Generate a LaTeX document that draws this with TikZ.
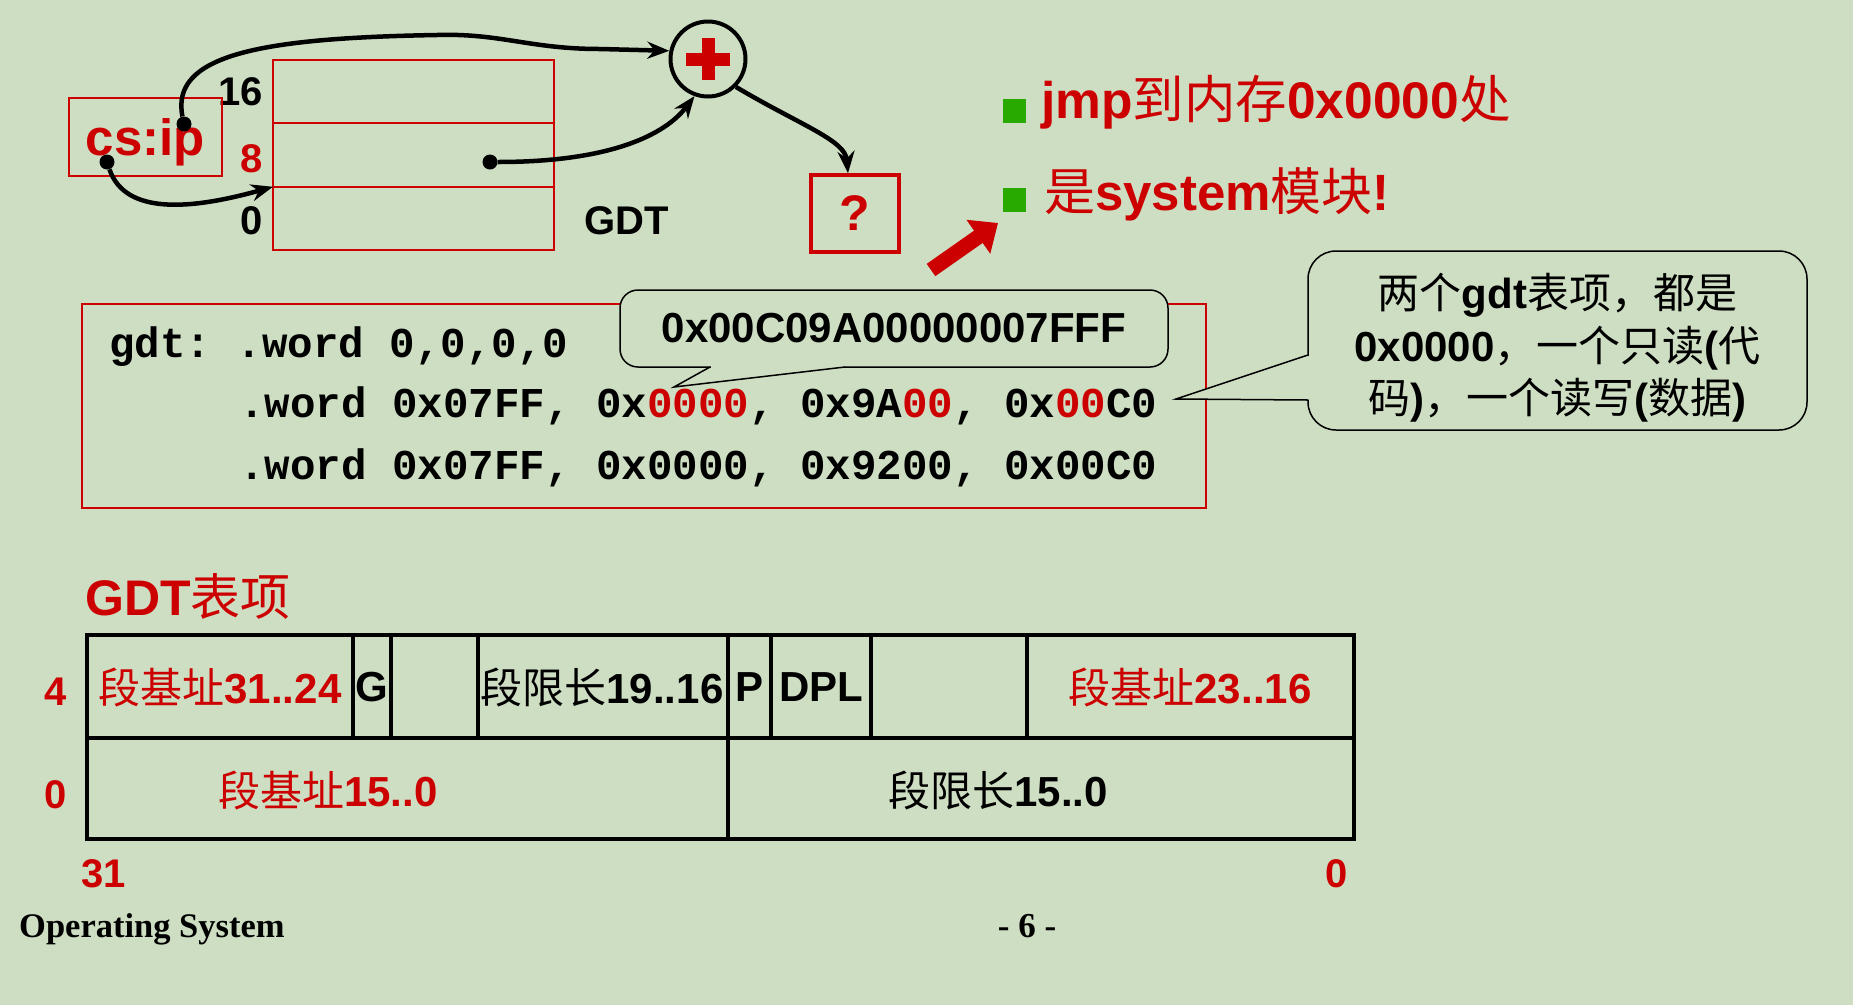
\documentclass[tikz,border=0pt]{standalone}
\usepackage{fontspec}
\setmainfont{Liberation Sans}
\setmonofont{Liberation Mono}
\newfontfamily\cjk{Noto Sans CJK SC}
\newfontfamily\footfont{Liberation Serif}
\usetikzlibrary{positioning,arrows.meta}
\definecolor{slidebg}{RGB}{206,222,195}
\definecolor{gdtred}{RGB}{204,0,0}
\definecolor{bulletgreen}{RGB}{40,170,0}
\newcommand{\zh}[1]{{\cjk\mdseries #1}}
\tikzset{%
  gdtrow/.style    = {rectangle, draw=gdtred, line width=1.6pt,%
                      minimum width=281pt, minimum height=63.5pt, outer sep=0pt},%
  numlab/.style    = {font=\fontsize{40pt}{48pt}\selectfont\bfseries},%
  blackdot/.style  = {circle, fill=black, minimum size=15pt},%
  jumparrow/.style = {line width=4.5pt, -{Stealth[length=22pt,width=17pt]}},%
  bubble/.style    = {rectangle, rounded corners=18pt, draw=black,%
                      line width=1.5pt, fill=slidebg},%
  asmline/.style   = {anchor=base west,%
                      font=\fontsize{42.5pt}{50pt}\selectfont\ttfamily\bfseries\frenchspacing},%
  tabtext/.style   = {font=\fontsize{42pt}{50pt}\selectfont\bfseries},%
  greenbox/.style  = {rectangle, fill=bulletgreen, minimum width=23pt, minimum height=24pt},%
  tabline/.style   = {line width=4pt, line cap=rect}%
}
\begin{document}
\begin{tikzpicture}[x=1pt,y=-1pt,
every node/.style = {inner sep=0pt}]
	\fill[slidebg] (0,0) rectangle (1853,1005);
	% GDT in memory
	\node[gdtrow] (row16) at (413.5,91.5) {};
	\node[gdtrow, below=0pt of row16] (row8) {};
	\node[gdtrow, below=0pt of row8] (row0) {};
	\node[numlab, left=10pt of row16] (lab16) {16};
	\node[numlab, left=10pt of row8, text=gdtred, yshift=-4pt] (lab8) {8};
	\node[numlab, left=10pt of row0, yshift=-2pt] (lab0) {0};
	\node[numlab, right=30pt of row0, yshift=-2pt] (gdtlab) {GDT};
	\node[rectangle, draw=gdtred, line width=1.6pt, minimum width=153pt, minimum height=78pt,
		text height=46pt, text depth=10pt,
		text=gdtred, font=\fontsize{51pt}{60pt}\selectfont\bfseries] (csip) at (145.5,137) {cs:ip};
	\node[blackdot] (csdot) at (184,124) {};
	\node[blackdot] (ipdot) at (107,162) {};
	\node[blackdot] (seldot) at (490,162) {};
	\node[circle, draw, line width=4pt, minimum size=75pt] (adder) at (708,59) {};
	\draw[gdtred, line width=13pt] ([xshift=-22pt]adder.center) -- ([xshift=22pt]adder.center)
		([yshift=21pt]adder.center) -- ([yshift=-21pt]adder.center);
	\node[rectangle, draw=gdtred, line width=3.5pt, minimum width=88pt, minimum height=77pt,
		text=gdtred, font=\fontsize{50pt}{60pt}\selectfont\bfseries] (dest) at (855,213.5) {?};
	\draw[jumparrow] (csdot) .. controls (170,55) and (260,38) .. (437,35)
		.. controls (500,33) and (530,49) .. (600,49) -- (adder.168);
	\draw[jumparrow] (ipdot) .. controls (125,215) and (190,210) .. (row8.south west);
	\draw[jumparrow] (seldot) .. controls (610,162) and (665,135) .. (adder.250);
	\draw[jumparrow] (adder.-45) .. controls (800,125) and (845,140) .. ([xshift=-7pt]dest.north);
	\draw[gdtred, line width=15pt, -{Triangle[length=24pt,width=40pt]}] (931,270) -- (998,223);
	% bullets
	\node[greenbox] (bul1) at (1014.5,110.5) {};
	\node[greenbox] (bul2) at (1014.5,200) {};
	\node[anchor=base west, text=gdtred, font=\fontsize{51.5pt}{60pt}\selectfont\bfseries]
		(jmptxt) at (1041,118) {jmp\zh{到内存}0x0000\zh{处}};
	\node[anchor=base west, text=gdtred, font=\fontsize{51pt}{60pt}\selectfont\bfseries]
		(systxt) at (1044,210) {\zh{是}system\zh{模块}!};
	% gdt source
	\draw[gdtred, line width=1.6pt] (82,304) rectangle (1206,508);
	\node[asmline] (asm1) at (109,357) {gdt: .word 0,0,0,0};
	\node[asmline] (asm2) at (239,417) {.word 0x07FF, 0x\textcolor{gdtred}{0000}, 0x9A\textcolor{gdtred}{00}, 0x\textcolor{gdtred}{00}C0};
	\node[asmline] (asm3) at (239,479) {.word 0x07FF, 0x0000, 0x9200, 0x00C0};
	\node[bubble, minimum width=548pt, minimum height=77pt,
		font=\fontsize{42pt}{48pt}\selectfont\bfseries] (hexcall) at (894,328.5) {0x00C09A00000007FFF};
	\coordinate (hextip) at (674,387);
	\fill[slidebg] (711,360) -- (711,368) -- (hextip) -- (844,368) -- (844,360) -- cycle;
	\draw[line width=1.5pt] (710,367) -- (hextip) -- (845,367);
	\node[bubble, rounded corners=28pt, minimum width=499pt, minimum height=179pt, align=center,
		font=\fontsize{42pt}{52.5pt}\selectfont\bfseries] (note) at (1557.5,340.5)
		{\rule{0pt}{50pt}\zh{两个}gdt\zh{表项，都是}\\0x0000\zh{，一个只读}(\zh{代}\\\zh{码})\zh{，一个读写}(\zh{数据})};
	\coordinate (notetip) at (1176,399);
	\fill[slidebg] (1304,356) -- (notetip) -- (1304,399.5) -- (1312,399.5) -- (1312,356) -- cycle;
	\draw[line width=1.5pt] (1308,355) -- (notetip) -- (1308,400);
	% descriptor layout
	\node[anchor=base west, text=gdtred, font=\fontsize{50pt}{56pt}\selectfont\bfseries]
		(gdtitem) at (85,615) {GDT\zh{表项}};
	\draw[tabline] (87,635) rectangle (1354,839);
	\draw[tabline] (87,738) -- (1354,738);
	\foreach \x in {353,391,478,728,771,871,1027}
		\draw[tabline] (\x,635) -- (\x,738);
	\draw[tabline] (728,738) -- (728,839);
	\node[tabtext, text=gdtred] (baseA) at (220,687) {\zh{段基址}31..24};
	\node[tabtext] (gbit) at (372,687) {G};
	\node[tabtext] (limA) at (602,687) {\zh{段限长}19..16};
	\node[tabtext] (pbit) at (749,687) {P};
	\node[tabtext] (dpl) at (821,687) {DPL};
	\node[tabtext, text=gdtred] (baseB) at (1190,687) {\zh{段基址}23..16};
	\node[tabtext, text=gdtred] (baseC) at (328,790) {\zh{段基址}15..0};
	\node[tabtext] (limB) at (998,790) {\zh{段限长}15..0};
	\node[numlab, text=gdtred] (off4) at (56,692) {4};
	\node[numlab, text=gdtred] (off0) at (56,795) {0};
	\node[numlab, text=gdtred] (bit31) at (104,874) {31};
	\node[numlab, text=gdtred] (bit0) at (1337,874) {0};
	% footer
	\node[anchor=base west, font=\footfont\bfseries\fontsize{34.5pt}{40pt}\selectfont] (osname) at (19,937) {Operating System};
	\node[anchor=base, font=\footfont\bfseries\fontsize{35pt}{40pt}\selectfont] (pageno) at (1027,937) {- 6 -};
\end{tikzpicture}
\end{document}
